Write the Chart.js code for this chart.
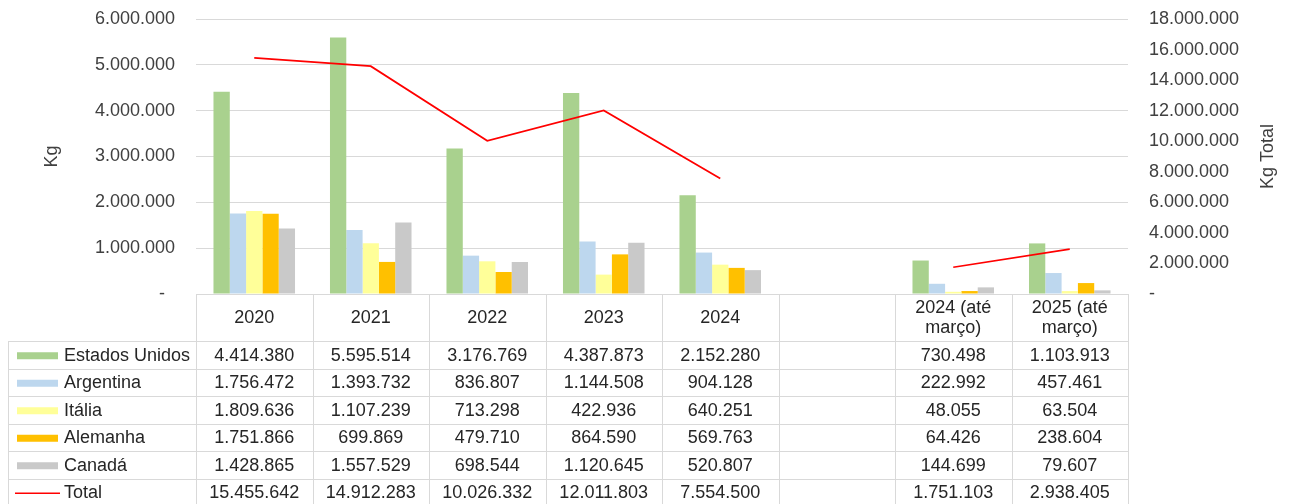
<!DOCTYPE html>
<html>
<head>
<meta charset="utf-8">
<script src="https://cdn.jsdelivr.net/npm/chart.js@4/dist/chart.umd.min.js"></script>
<style>
  html, body { margin: 0; padding: 0; background: #fff; }
  #wrap { width: 1290px; height: 504px; position: relative; }
</style>
</head>
<body>
<div id="wrap"><canvas id="chart"></canvas></div>
<script>
// categories (the empty one is the gap column in the original sheet)
const categories = [['2020'], ['2021'], ['2022'], ['2023'], ['2024'], [''], ['2024 (até', 'março)'], ['2025 (até', 'março)']];

const estadosUnidos = [4414380, 5595514, 3176769, 4387873, 2152280, null, 730498, 1103913];
const argentina     = [1756472, 1393732, 836807, 1144508, 904128, null, 222992, 457461];
const italia        = [1809636, 1107239, 713298, 422936, 640251, null, 48055, 63504];
const alemanha      = [1751866, 699869, 479710, 864590, 569763, null, 64426, 238604];
const canada        = [1428865, 1557529, 698544, 1120645, 520807, null, 144699, 79607];
const total         = [15455642, 14912283, 10026332, 12011803, 7554500, null, 1751103, 2938405];

const leftTicks = { min: 0, max: 6000000, step: 1000000 };
const rightTicks = { min: 0, max: 18000000, step: 2000000 };

const FONT = '"Liberation Sans", Arial, sans-serif';
const FSIZE = 18;
const TEXT = '#404040';
const GRID = '#d9d9d9';

function fmt(n) {
    if (n === null || n === undefined) return '';
    return String(n).replace(/\B(?=(\d{3})+(?!\d))/g, '.');
}

const series = [
    { label: 'Estados Unidos', data: estadosUnidos, color: '#A9D18E' },
    { label: 'Argentina', data: argentina, color: '#BDD7EE' },
    { label: 'Itália', data: italia, color: '#FFFF99' },
    { label: 'Alemanha', data: alemanha, color: '#FFC000' },
    { label: 'Canadá', data: canada, color: '#C9C9C9' }
];

// draws the Excel-like data table under the plot plus both axis titles
const tablePlugin = {
    id: 'dataTable',
    afterDraw(chart) {
        const ctx = chart.ctx;
        const area = chart.chartArea;
        const n = categories.length;
        const cw = (area.right - area.left) / n;
        const top = area.bottom;
        const headBottom = 341;
        const rowH = 27.5;
        const legendLeft = 8;
        const H = chart.height;

        ctx.save();
        ctx.strokeStyle = GRID;
        ctx.lineWidth = 1;

        // vertical lines
        for (let i = 0; i <= n; i++) {
            const x = Math.round(area.left + i * cw) + 0.5;
            ctx.beginPath();
            ctx.moveTo(x, top);
            ctx.lineTo(x, H);
            ctx.stroke();
        }
        ctx.beginPath();
        ctx.moveTo(legendLeft + 0.5, headBottom);
        ctx.lineTo(legendLeft + 0.5, H);
        ctx.stroke();

        // horizontal lines
        for (let r = 0; r <= 6; r++) {
            const y = Math.round(headBottom + r * rowH) + 0.5;
            if (y > H) break;
            ctx.beginPath();
            ctx.moveTo(legendLeft, y);
            ctx.lineTo(area.right, y);
            ctx.stroke();
        }

        ctx.font = FSIZE + 'px ' + FONT;
        ctx.fillStyle = '#262626';
        ctx.textAlign = 'center';
        ctx.textBaseline = 'middle';

        // header
        const headMid = (top + headBottom) / 2;
        categories.forEach((lines, i) => {
            const cx = area.left + (i + 0.5) * cw;
            const lh = 20;
            lines.forEach((t, k) => {
                const y = headMid + (k - (lines.length - 1) / 2) * lh + 1;
                ctx.fillText(t, cx, y);
            });
        });

        // rows
        const rows = series.concat([{ label: 'Total', data: total, color: '#FF0000', line: true }]);
        rows.forEach((s, r) => {
            const cy = headBottom + (r + 0.5) * rowH + 1;
            if (s.line) {
                ctx.strokeStyle = s.color;
                ctx.lineWidth = 1.5;
                ctx.beginPath();
                ctx.moveTo(15, cy);
                ctx.lineTo(60, cy);
                ctx.stroke();
            } else {
                ctx.fillStyle = s.color;
                ctx.fillRect(17, cy - 3.5, 41, 7);
            }
            ctx.fillStyle = '#262626';
            ctx.textAlign = 'left';
            ctx.fillText(s.label, 64, cy);
            ctx.textAlign = 'center';
            s.data.forEach((v, i) => {
                ctx.fillText(fmt(v), area.left + (i + 0.5) * cw, cy);
            });
        });

        // axis titles, both reading bottom to top
        ctx.fillStyle = TEXT;
        const midY = (area.top + area.bottom) / 2;
        ctx.translate(52, midY);
        ctx.rotate(-Math.PI / 2);
        ctx.fillText('Kg', 0, 0);
        ctx.rotate(Math.PI / 2);
        ctx.translate(-52, -midY);
        ctx.translate(1268, midY);
        ctx.rotate(-Math.PI / 2);
        ctx.fillText('Kg Total', 0, 0);
        ctx.restore();
    }
};

const datasets = series.map(s => ({
    type: 'bar',
    label: s.label,
    data: s.data,
    backgroundColor: s.color,
    borderWidth: 0,
    yAxisID: 'y',
    categoryPercentage: 0.7,
    barPercentage: 1.0,
    order: 2
}));
datasets.push({
    type: 'line',
    label: 'Total',
    data: total,
    borderColor: '#FF0000',
    borderWidth: 1.75,
    pointRadius: 0,
    spanGaps: false,
    tension: 0,
    yAxisID: 'y1',
    order: 1
});

function fitSide(w) {
    return s => {
        s.width = w;
        s.paddingTop = 0;
        s.paddingBottom = 0;
    };
}

new Chart(document.getElementById('chart'), {
    data: {
        labels: categories.map(c => c.join(' ')),
        datasets: datasets
    },
    options: {
        responsive: true,
        maintainAspectRatio: false,
        animation: false,
        layout: { padding: { top: 19, bottom: 210, left: 0, right: 0 } },
        plugins: {
            legend: { display: false },
            tooltip: { enabled: false }
        },
        scales: {
            x: { display: false, offset: true },
            y: {
                position: 'left',
                min: leftTicks.min,
                max: leftTicks.max,
                afterFit: fitSide(196),
                grid: { color: GRID, lineWidth: 1, drawTicks: false },
                border: { display: false },
                ticks: {
                    stepSize: leftTicks.step,
                    padding: 21,
                    color: TEXT,
                    font: { family: FONT, size: FSIZE },
                    callback: v => v === 0 ? '-  ' : fmt(v)
                }
            },
            y1: {
                position: 'right',
                min: rightTicks.min,
                max: rightTicks.max,
                afterFit: fitSide(162),
                grid: { display: false, drawTicks: false },
                border: { display: false },
                ticks: {
                    stepSize: rightTicks.step,
                    padding: 21,
                    color: TEXT,
                    font: { family: FONT, size: FSIZE },
                    callback: v => v === 0 ? '-' : fmt(v)
                }
            }
        }
    },
    plugins: [tablePlugin]
});
</script>
</body>
</html>
